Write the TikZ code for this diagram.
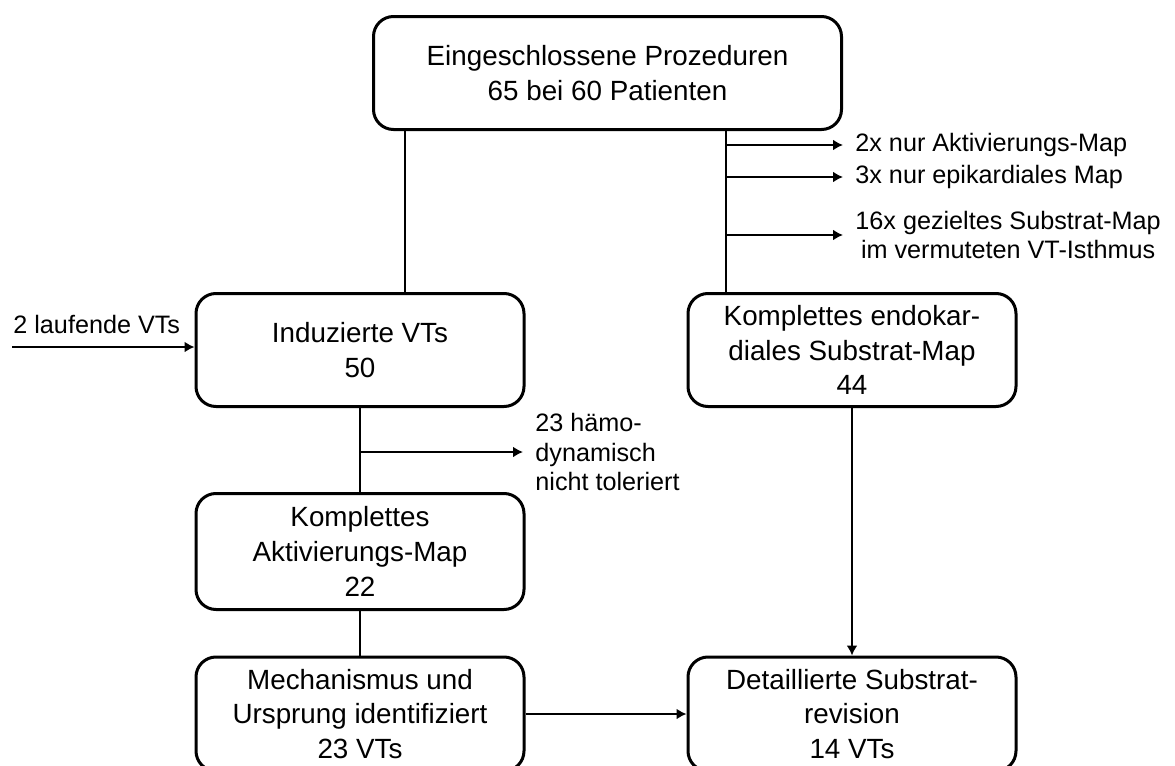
\documentclass[tikz,border=0pt]{standalone}
\usepackage{fontspec}
\setmainfont{Liberation Sans}
\usetikzlibrary{arrows.meta}

\begin{document}
\begin{tikzpicture}[x=0.5pt, y=-0.5pt,
		box/.style={draw, line width=1.5pt, rounded corners=10pt, align=center, minimum width=164pt, minimum height=56.5pt, inner sep=0pt, font=\fontsize{13.9}{17.3}\selectfont},
		lbl/.style={inner xsep=6pt, inner ysep=0pt, font=\fontsize{12.6}{14.6}\selectfont},
		arr/.style={line width=1pt, -{Latex[length=5pt, width=5.5pt]}},
		ln/.style={line width=1pt}]
		\useasboundingbox (0,0) rectangle (1175,766);
		% boxes
		\node[box, minimum width=234pt] (top) at (607.5,73) {Eingeschlossene Prozeduren\\65 bei 60 Patienten};
		\node[box] (ind) at (360,350) {Induzierte VTs\\50};
		\node[box] (endo) at (852,350) {Komplettes endokar-\\diales Substrat-Map\\44};
		\node[box, minimum height=58pt] (akt) at (360,551.5) {Komplettes\\Aktivierungs-Map\\22};
		\node[box, minimum height=57pt] (mech) at (360,714) {Mechanismus und\\Ursprung identifiziert\\23 VTs};
		\node[box, minimum height=57pt] (det) at (852,714) {Detaillierte Substrat-\\revision\\14 VTs};
		% top split
		\coordinate (lsplit) at (405,0);
		\coordinate (rsplit) at (726,0);
		\draw[ln] (top.south -| lsplit) -- (ind.north -| lsplit);
		\draw[ln] (top.south -| rsplit) -- (endo.north -| rsplit);
		% excluded maps
		\node[lbl, anchor=west] (n1) at (843,145) {2x nur Aktivierungs-Map};
		\node[lbl, anchor=west] (n2) at (843,177) {3x nur epikardiales Map};
		\node[lbl, anchor=west, align=center] (n3) at (843,235) {16x gezieltes Substrat-Map\\im vermuteten VT-Isthmus};
		\foreach \n in {n1,n2,n3}
			\draw[arr] (rsplit |- \n.west) -- (\n.west);
		% running VTs
		\coordinate (vtin) at (12,347);
		\node[lbl, anchor=base west, inner sep=0pt] (n4) at (13,333) {2 laufende VTs};
		\draw[arr] (vtin) -- (vtin -| ind.west);
		% left column
		\draw[ln] (ind) -- (akt);
		\coordinate (hsplit) at (360,452);
		\node[lbl, anchor=west, align=left] (n5) at (523,452) {23 hämo-\\dynamisch\\nicht toleriert};
		\draw[arr] (hsplit) -- (n5.west);
		\draw[ln] (akt) -- (mech);
		% to substrate revision
		\draw[arr] (mech) -- (det);
		\draw[arr] (endo) -- (det);
	\end{tikzpicture}
\end{document}
